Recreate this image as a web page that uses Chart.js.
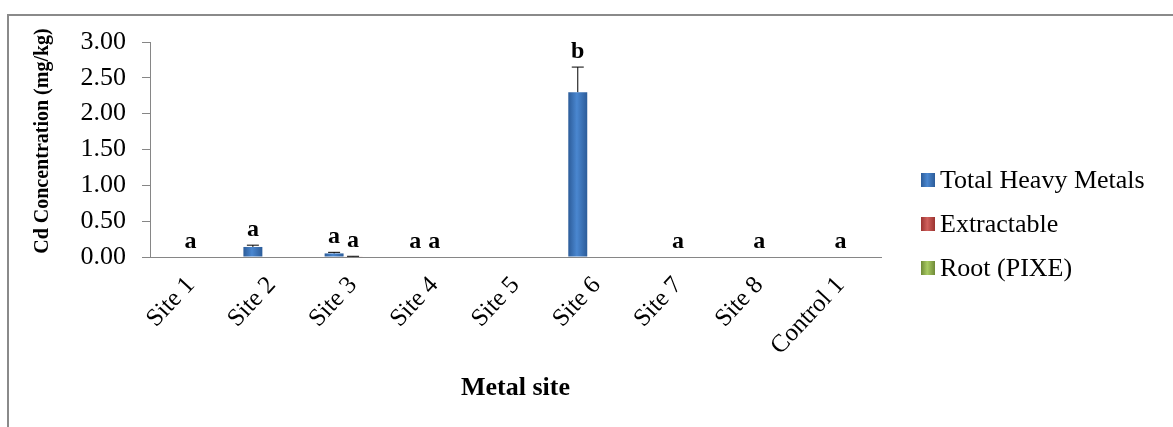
<!DOCTYPE html>
<html>
<head>
<meta charset="utf-8">
<script src="https://cdn.jsdelivr.net/npm/chart.js@4/dist/chart.umd.min.js"></script>
<style>
  html, body { margin: 0; padding: 0; background: #fff; }
  #wrap { width: 1173px; height: 427px; }
</style>
</head>
<body>
<div id="wrap"><canvas id="c" width="1173" height="427"></canvas></div>
<script>
// Cd concentration per site (mg/kg)
const categories = ['Site 1', 'Site 2', 'Site 3', 'Site 4', 'Site 5', 'Site 6', 'Site 7', 'Site 8', 'Control 1'];
const totalHeavyMetals = [0, 0.14, 0.05, 0, 0, 2.30, 0, 0, 0];
const totalError       = [0, 0.025, 0.015, 0, 0, 0.35, 0, 0, 0];
const extractable      = [0, 0, 0.006, 0, 0, 0, 0, 0, 0];
const extractableError = [0, 0, 0.004, 0, 0, 0, 0, 0, 0];
const rootPixe         = [0, 0, 0, 0, 0, 0, 0, 0, 0];
// significance letters written above the bars
const totalLetters       = ['', 'a', 'a', 'a', '', 'b', '', '', ''];
const extractableLetters = ['a', '', 'a', 'a', '', '', 'a', 'a', 'a'];
const yTicks = [0, 0.5, 1, 1.5, 2, 2.5, 3];
const yTitle = 'Cd Concentration (mg/kg)';

const SERIF = "'Liberation Serif', 'Times New Roman', serif";
const AXIS_GREY = '#868686';

// colour sets: [edge, centre] for a shaded bar face
const shades = [
  ['#2c5c99', '#4a87d0'],
  ['#9b3330', '#d0605c'],
  ['#6f8a37', '#a9cb63']
];

const errors = [totalError, extractableError, null];
const letters = [totalLetters, extractableLetters, null];

// white page with the grey outer frame, plus the vertical axis title
const framePlugin = {
  id: 'frame',
  beforeDraw(chart) {
    const c = chart.ctx;
    c.save();
    c.fillStyle = '#fff';
    c.fillRect(0, 0, chart.width, chart.height);
    c.strokeStyle = '#8a8a8a';
    c.lineWidth = 2;
    c.beginPath();
    c.moveTo(8, chart.height);
    c.lineTo(8, 15);
    c.lineTo(chart.width, 15);
    c.stroke();
    c.translate(43, 141);
    c.rotate(-Math.PI / 2);
    c.fillStyle = '#000';
    c.font = 'bold 20px ' + SERIF;
    c.textAlign = 'center';
    c.textBaseline = 'middle';
    c.fillText(yTitle, 0, 0);
    c.restore();
  }
};

// horizontal shading across each bar
const shadePlugin = {
  id: 'shade',
  beforeDatasetsDraw(chart) {
    const c = chart.ctx;
    chart.data.datasets.forEach((ds, di) => {
      const meta = chart.getDatasetMeta(di);
      meta.data.forEach(el => {
        const half = el.width / 2;
        const g = c.createLinearGradient(el.x - half, 0, el.x + half, 0);
        g.addColorStop(0, shades[di][0]);
        g.addColorStop(0.45, shades[di][1]);
        g.addColorStop(1, shades[di][0]);
        el.options = Object.assign({}, el.options, { backgroundColor: g });
      });
    });
  }
};

// error bars and letters above bars
const annotatePlugin = {
  id: 'annotate',
  afterDatasetsDraw(chart) {
    const c = chart.ctx;
    const y = chart.scales.y;
    c.save();
    chart.data.datasets.forEach((ds, di) => {
      const meta = chart.getDatasetMeta(di);
      const err = errors[di];
      const lab = letters[di];
      meta.data.forEach((el, i) => {
        const v = ds.data[i];
        const e = err ? err[i] : 0;
        const topPx = y.getPixelForValue(v + e);
        if (e > 0) {
          c.strokeStyle = '#000';
          c.lineWidth = 1;
          c.beginPath();
          c.moveTo(el.x, el.y);
          c.lineTo(el.x, topPx);
          c.moveTo(el.x - 6, topPx);
          c.lineTo(el.x + 6, topPx);
          c.stroke();
        }
        if (lab && lab[i]) {
          c.fillStyle = '#000';
          c.font = 'bold 24px ' + SERIF;
          c.textAlign = 'center';
          c.textBaseline = 'alphabetic';
          c.fillText(lab[i], el.x, topPx - 9);
        }
      });
    });
    c.restore();
  }
};

// legend at the right
const legendPlugin = {
  id: 'sideLegend',
  afterDraw(chart) {
    const c = chart.ctx;
    const x0 = 921, rows = [180, 224, 268];
    c.save();
    chart.data.datasets.forEach((ds, di) => {
      const cy = rows[di];
      const g = c.createLinearGradient(x0, 0, x0 + 14, 0);
      g.addColorStop(0, shades[di][0]);
      g.addColorStop(0.45, shades[di][1]);
      g.addColorStop(1, shades[di][0]);
      c.fillStyle = g;
      c.fillRect(x0, cy - 7, 14, 14);
      c.fillStyle = '#000';
      c.font = '26px ' + SERIF;
      c.textAlign = 'left';
      c.textBaseline = 'middle';
      c.fillText(ds.label, x0 + 19, cy + 1);
    });
    c.restore();
  }
};

new Chart(document.getElementById('c'), {
  type: 'bar',
  data: {
    labels: categories,
    datasets: [
      { label: 'Total Heavy Metals', data: totalHeavyMetals, backgroundColor: shades[0][1] },
      { label: 'Extractable', data: extractable, backgroundColor: shades[1][1] },
      { label: 'Root (PIXE)', data: rootPixe, backgroundColor: shades[2][1] }
    ]
  },
  options: {
    responsive: false,
    animation: false,
    layout: { padding: { left: 0, top: 42, right: 292, bottom: 0 } },
    datasets: { bar: { categoryPercentage: 0.7, barPercentage: 1.0 } },
    plugins: { legend: { display: false }, tooltip: { enabled: false } },
    scales: {
      x: {
        grid: { display: false },
        border: { display: true, color: AXIS_GREY, width: 1 },
        ticks: {
          autoSkip: false,
          minRotation: 47,
          maxRotation: 47,
          padding: 6,
          color: '#000',
          font: { family: SERIF, size: 25 }
        },
        title: {
          display: true,
          text: 'Metal site',
          color: '#000',
          font: { family: SERIF, size: 26, weight: 'bold' },
          padding: { top: 0, bottom: 23 }
        },
        afterFit(s) { s.height = 170; }
      },
      y: {
        min: 0,
        max: 3,
        afterBuildTicks(s) { s.ticks = yTicks.map(v => ({ value: v })); },
        grid: { display: true, drawOnChartArea: false, drawTicks: true, tickLength: 8, color: AXIS_GREY },
        border: { display: true, color: AXIS_GREY, width: 1 },
        ticks: {
          padding: 16,
          color: '#000',
          font: { family: SERIF, size: 26 },
          callback: v => Number(v).toFixed(2)
        },
        title: { display: false },
        afterFit(s) { s.width = 150; }
      }
    }
  },
  plugins: [framePlugin, shadePlugin, annotatePlugin, legendPlugin]
});
</script>
</body>
</html>
